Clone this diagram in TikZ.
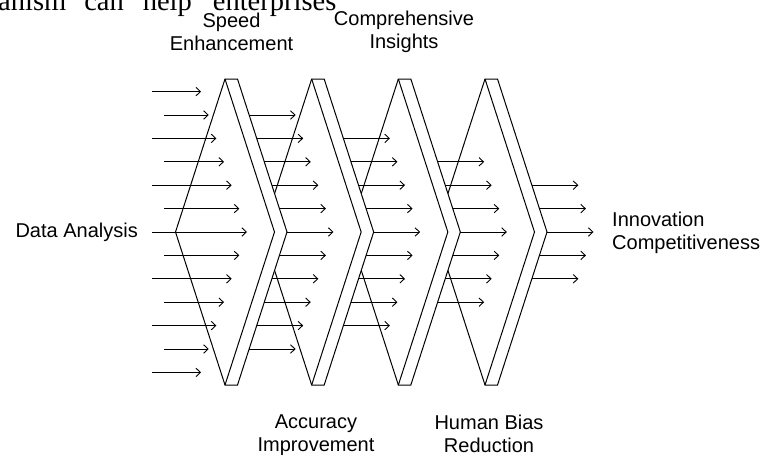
\documentclass[tikz,border=0pt]{standalone}
\usepackage{fontspec}
\setmainfont{Liberation Sans}
\newfontfamily\headserif{Liberation Serif}
\usetikzlibrary{arrows.meta}
\begin{document}
\begin{tikzpicture}[x=1pt,y=-1pt,
  band/.style={draw=black,fill=white,line width=1pt,line join=miter},
  edge/.style={draw=black,line width=1pt},
  flow/.style={draw=black,line width=0.9pt,-{Straight Barb[length=4.5pt,width=8.5pt]}},
  lbl/.style={font=\fontsize{20}{23}\selectfont,align=center,inner sep=0pt}]
\useasboundingbox (0,0) rectangle (764,455);
\clip (0,0) rectangle (764,455);

% chevron stages, drawn back to front so each one covers the next one's left side
\foreach \i in {3,2,1,0} {
  \pgfmathsetmacro\ax{225+86.67*\i}
  \pgfmathsetmacro\aw{\ax+12.5}
  \pgfmathsetmacro\lx{\ax-49.5}
  \pgfmathsetmacro\tin{\ax+49.5}
  \pgfmathsetmacro\tout{\aw+49.5}
  \coordinate (L\i) at (\lx,232);
  \coordinate (T\i) at (\ax,79);
  \coordinate (TW\i) at (\aw,79);
  \coordinate (O\i) at (\tout,232);
  \coordinate (I\i) at (\tin,232);
  \coordinate (BW\i) at (\aw,385);
  \coordinate (B\i) at (\ax,385);
  \path[band] (L\i) -- (T\i) -- (TW\i) -- (O\i) -- (BW\i) -- (B\i) -- cycle;
  \draw[edge] (T\i) -- (I\i) -- (B\i);
}

% incoming arrows
\foreach \k in {-6,...,6} {
  \pgfmathsetmacro\yy{232+23.4*\k}
  \pgfmathsetmacro\xs{mod(abs(\k),2)==1 ? 164 : 152}
  \pgfmathsetmacro\xe{247-7.65*abs(\k)}
  \pgfmathtruncatemacro\n{\k+6}
  \coordinate (s0-\n) at (\xs,\yy);
  \coordinate (e0-\n) at (\xe,\yy);
  \draw[flow] (s0-\n) -- (e0-\n);
}

% arrows leaving each stage, fewer after every step
\foreach \c in {1,...,4} {
  \pgfmathtruncatemacro\km{6-\c}
  \foreach \k in {-6,...,6} {
    \pgfmathtruncatemacro\ak{abs(\k)}
    \ifnum\ak>\km\relax\else
      \pgfmathsetmacro\yy{232+23.4*\k}
      \pgfmathsetmacro\xs{225+86.67*(\c-1)+12.5+49.5*(1-23.4*\ak/153)}
      \pgfmathsetmacro\xe{\xs+46.5}
      \pgfmathtruncatemacro\n{\k+6}
      \coordinate (s\c-\n) at (\xs,\yy);
      \coordinate (e\c-\n) at (\xe,\yy);
      \draw[flow] (s\c-\n) -- (e\c-\n);
    \fi
  }
}

% labels
\node[font=\headserif\fontsize{28.5}{30}\selectfont,anchor=base west,inner sep=0pt] (head) at (-2,10)
  {anism\hspace{18pt}can\hspace{19pt}help\hspace{21pt}enterprises};
\node[lbl] (speed) at (231.5,31.5) {Speed\\Enhancement};
\node[lbl] (insight) at (404,31.5) {Comprehensive\\Insights};
\node[lbl] (accuracy) at (316,435) {Accuracy\\Improvement};
\node[lbl] (bias) at (489,434) {Human Bias\\Reduction};
\node[lbl,anchor=east] (data) at (138,232.8) {Data Analysis};
\node[lbl,anchor=west,align=left] (innov) at (612,232.8) {Innovation\\Competitiveness};
\end{tikzpicture}
\end{document}
